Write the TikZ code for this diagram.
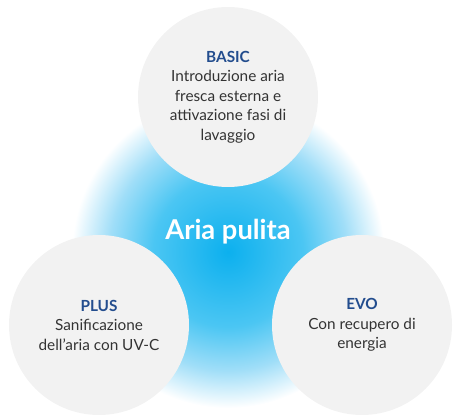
\documentclass[tikz,border=0pt]{standalone}
\usepackage{fontspec}
\setmainfont{Lato}
\definecolor{bubblegray}{HTML}{F2F2F2}
\definecolor{titleblue}{HTML}{234D8E}
\definecolor{textgray}{HTML}{333333}
\definecolor{glowA}{RGB}{12,176,238}
\definecolor{glowB}{RGB}{75,198,243}
\definecolor{glowC}{RGB}{160,222,248}
\pgfdeclareradialshading{airglow}{\pgfpoint{0bp}{0bp}}{color(0bp)=(glowA); color(12bp)=(glowB); color(19bp)=(glowC); color(25bp)=(white); color(50bp)=(white)}
\begin{document}
\begin{tikzpicture}[x=0.75pt, y=-0.75pt, font=\fontsize{11.5}{14.6}\selectfont,
	bubble/.style={circle, fill=bubblegray, minimum size=135pt, inner sep=0pt, align=center, text=textgray}]
	\useasboundingbox (0,0) rectangle (460,420);
	% alone azzurro
	\node[circle, minimum size=234pt, inner sep=0pt, shade, shading=airglow] (glow) at (228,252) {};
	% moduli
	\node[bubble] (basic) at (228,97) {\textcolor{titleblue}{\textbf{BASIC}}\\Introduzione aria\\fresca esterna e\\attivazione fasi di\\lavaggio};
	\node[bubble] (plus) at (99,325) {\textcolor{titleblue}{\textbf{PLUS}}\\Sanificazione\\dell’aria con UV-C};
	\node[bubble] (evo) at (362,325) {\textcolor{titleblue}{\textbf{EVO}}\\Con recupero di\\energia};
	% centro
	\node[text=white, font=\fontsize{20.5}{22}\selectfont\bfseries] (centre) at (228,232) {Aria pulita};
\end{tikzpicture}
\end{document}
